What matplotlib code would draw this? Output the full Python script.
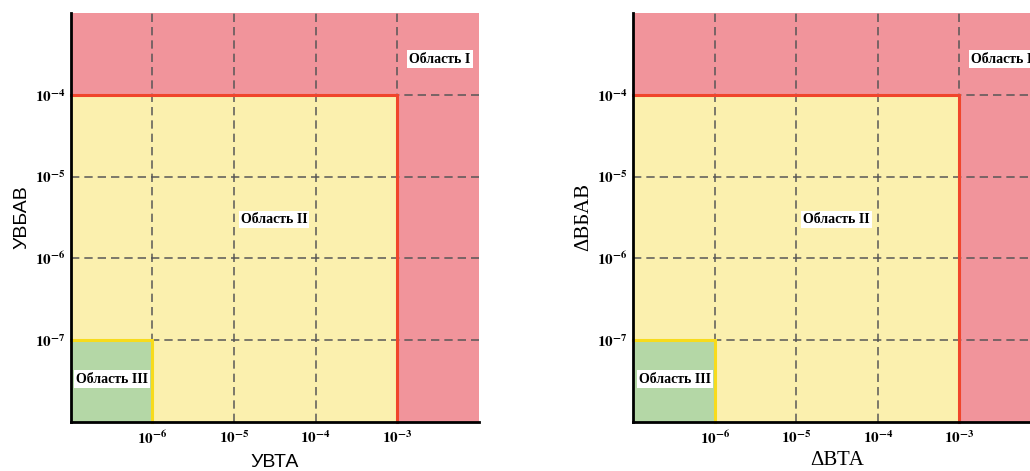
import numpy as np
import matplotlib
matplotlib.use("Agg")
import matplotlib.pyplot as plt
from matplotlib.ticker import FixedLocator, NullLocator

# axis ranges and ticks
x_range = [1e-7, 1e-2]
y_range = [1e-8, 1e-3]
x_ticks = [1e-6, 1e-5, 1e-4, 1e-3]
y_ticks = [1e-7, 1e-6, 1e-5, 1e-4]
x_tick_labels = ["10^{-6}", "10^{-5}", "10^{-4}", "10^{-3}"]
y_tick_labels = ["10^{-7}", "10^{-6}", "10^{-5}", "10^{-4}"]

# region borders: (x limit, y limit)
region2_bound = (1e-3, 1e-4)
region3_bound = (1e-6, 1e-7)

# region labels and their positions (x, y)
region_names = ["Область I", "Область II", "Область III"]
region_pos = [(10**-2.48, 10**-3.56), (10**-4.51, 10**-5.53), (10**-6.49, 10**-7.48)]

# panel axis titles
panel_xlabels = ["УВТА", "ΔВТА"]
panel_ylabels = ["УВБАВ", "ΔВБАВ"]

red_fill = "#F1949B"
yellow_fill = "#FBF0AE"
green_fill = "#B4D7A6"
red_line = "#F0452B"
yellow_line = "#F7DB1C"

plt.rcParams["mathtext.fontset"] = "stix"

fig = plt.figure(figsize=(10.3, 4.71), dpi=100)

W, H = 1030, 471
panel_left = [70.7, 633.3]
panel_right = [479, 1041]
top_px, bottom_px = 13.3, 421.5

for k in range(2):
    ax = fig.add_axes([panel_left[k] / W, (H - bottom_px) / H,
                       (panel_right[k] - panel_left[k]) / W, (bottom_px - top_px) / H])
    ax.set_xscale("log")
    ax.set_yscale("log")
    ax.set_xlim(x_range)
    ax.set_ylim(y_range)

    # zones
    ax.fill_between(x_range, y_range[0], y_range[1], color=red_fill, lw=0, zorder=1)
    ax.fill_between([x_range[0], region2_bound[0]], y_range[0], region2_bound[1],
                    color=yellow_fill, lw=0, zorder=1.1)
    ax.fill_between([x_range[0], region3_bound[0]], y_range[0], region3_bound[1],
                    color=green_fill, lw=0, zorder=1.2)

    # borders
    ax.plot([x_range[0], region2_bound[0], region2_bound[0]],
            [region2_bound[1], region2_bound[1], y_range[0]],
            color=red_line, lw=2.2, zorder=3, solid_joinstyle="miter", clip_on=False)
    ax.plot([x_range[0], region3_bound[0], region3_bound[0]],
            [region3_bound[1], region3_bound[1], y_range[0]],
            color=yellow_line, lw=2.2, zorder=3, solid_joinstyle="miter", clip_on=False)

    ax.xaxis.set_major_locator(FixedLocator(x_ticks))
    ax.yaxis.set_major_locator(FixedLocator(y_ticks))
    ax.xaxis.set_minor_locator(NullLocator())
    ax.yaxis.set_minor_locator(NullLocator())
    ax.set_xticklabels([r"$\mathbf{" + t + "}$" for t in x_tick_labels], fontsize=11)
    ax.set_yticklabels([r"$\mathbf{" + t + "}$" for t in y_tick_labels], fontsize=11)
    ax.tick_params(axis="x", length=0, pad=6)
    ax.tick_params(axis="y", length=0, pad=4)

    ax.set_axisbelow(False)
    ax.grid(True, color="#555555", lw=1.2, linestyle=(0, (5, 3)), alpha=0.9)

    for side in ["top", "right"]:
        ax.spines[side].set_visible(False)
    for side in ["left", "bottom"]:
        ax.spines[side].set_linewidth(2)
        ax.spines[side].set_color("black")
        ax.spines[side].set_zorder(4)

    for name, (tx, ty) in zip(region_names, region_pos):
        ax.text(tx, ty, name, ha="center", va="center", fontsize=10,
                family="Liberation Serif", weight="bold", zorder=5,
                bbox=dict(facecolor="white", edgecolor="none", pad=1.5))

    if k == 0:
        ax.set_xlabel(panel_xlabels[k], family="Liberation Sans", fontsize=14, labelpad=5)
        ax.set_ylabel(panel_ylabels[k], family="Liberation Sans", fontsize=14, labelpad=3)
    else:
        ax.set_xlabel(panel_xlabels[k], family="Liberation Serif", fontsize=15, labelpad=3)
        ax.set_ylabel(panel_ylabels[k], family="Liberation Serif", fontsize=15, labelpad=3)

fig.savefig("out.png", dpi=100)
